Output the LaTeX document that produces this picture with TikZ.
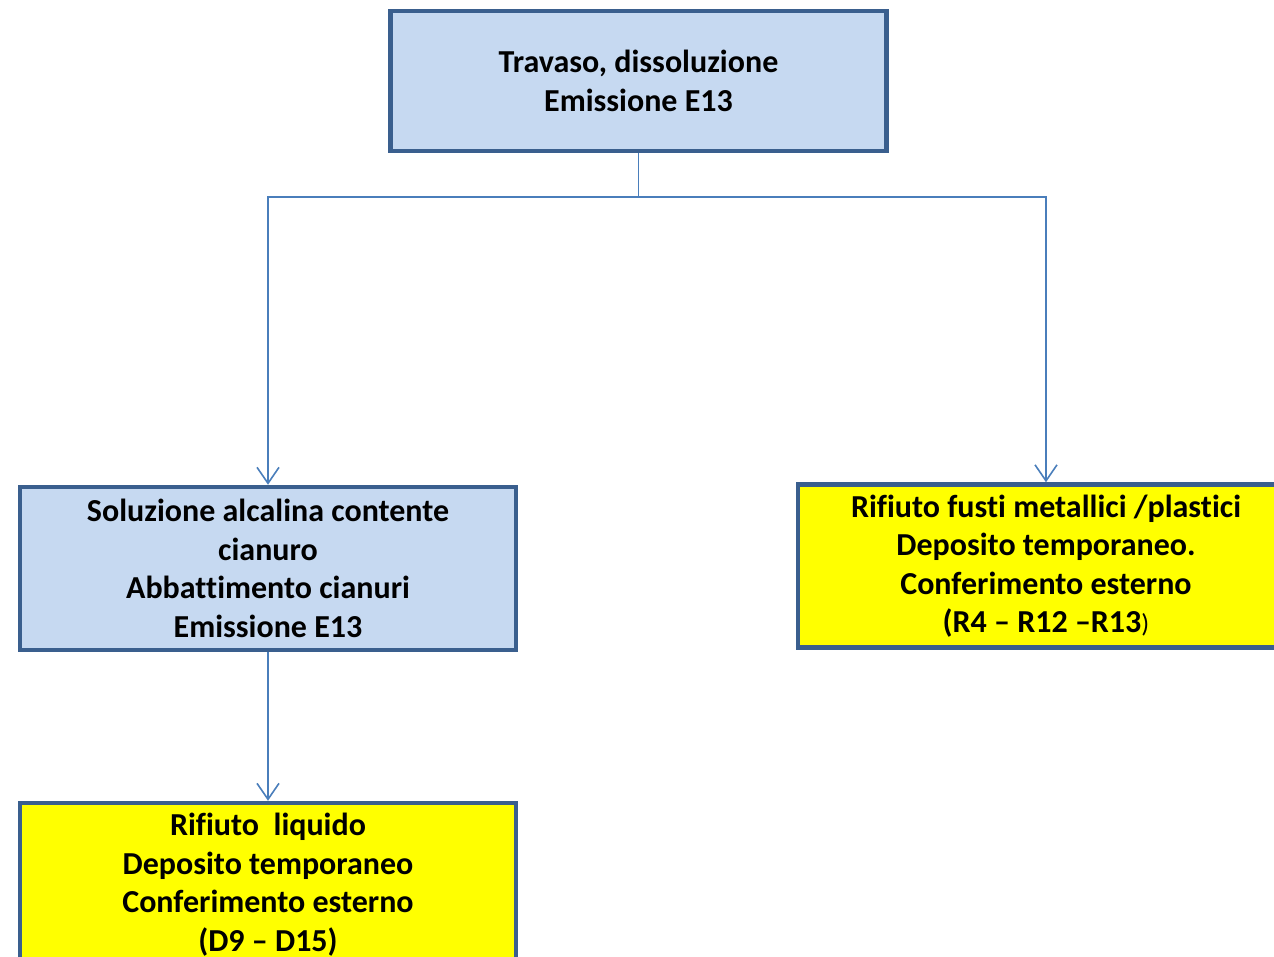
\documentclass[tikz,border=0pt]{standalone}
\usepackage{fontspec}
\setmainfont{Carlito}[Ligatures={TeX,NoCommon}]
\usetikzlibrary{arrows.meta}
\definecolor{boxblue}{HTML}{C6D9F1}
\definecolor{boxline}{HTML}{3A5F8E}
\definecolor{linkblue}{HTML}{4A7EBB}
\definecolor{wasteyellow}{HTML}{FFFF00}
\begin{document}
\begin{tikzpicture}[x=1pt,y=-1pt,
  stage/.style={draw=boxline,line width=4.5pt,fill=boxblue,align=center,
    minimum width=496pt,minimum height=163pt,inner sep=0pt,
    font=\bfseries\fontsize{32}{38.5}\selectfont},
  waste/.style={stage,fill=wasteyellow},
  link/.style={draw=linkblue,line width=1.6pt},
  arrow/.style={link,-{Straight Barb[length=16pt,width=22pt,line width=1.6pt]}}]
  \useasboundingbox (0,0) rectangle (1274,957);

  \node[stage,minimum height=140pt] (travaso) at (638.5,81) {Travaso, dissoluzione\\Emissione E13};
  \node[stage] (soluzione) at (268,568.5) {Soluzione alcalina contente\\cianuro\\Abbattimento cianuri\\Emissione E13};
  \node[waste] (fusti) at (1046,566) {Rifiuto fusti metallici /plastici\\Deposito temporaneo.\\Conferimento esterno\\(R4 -- R12 --R13{\mdseries\fontsize{26}{38.5}\selectfont )}};
  \node[waste] (liquido) at (268,884.5) {Rifiuto~~liquido\\Deposito temporaneo\\Conferimento esterno\\(D9 -- D15)};

  \coordinate (split) at (638.5,197);
  \draw[link] (travaso.south) -- (split);
  \draw[arrow] (split) -| (soluzione.north);
  \draw[arrow] (split) -| (fusti.north);
  \draw[arrow] (soluzione.south) -- (liquido.north);
\end{tikzpicture}
\end{document}
